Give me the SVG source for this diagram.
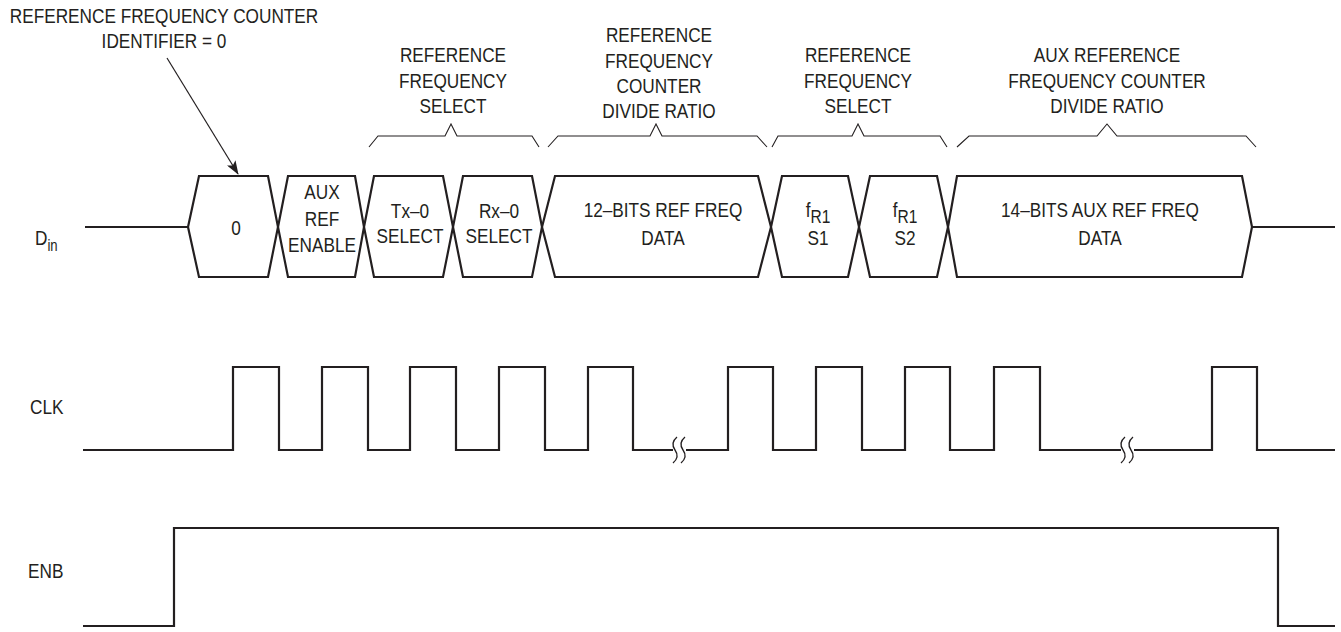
<svg xmlns="http://www.w3.org/2000/svg" width="1341" height="632" viewBox="0 0 1341 632">
<defs>
<style>
text{font-family:"Liberation Sans",Arial,sans-serif;font-size:21px;fill:#231f20}
.c{text-anchor:middle}
.sig{fill:none;stroke:#231f20;stroke-width:2.2;stroke-linejoin:miter}
.box{fill:none;stroke:#231f20;stroke-width:2.2;stroke-linejoin:miter}
.brace{fill:none;stroke:#231f20;stroke-width:1.1}
.brk{fill:none;stroke:#231f20;stroke-width:1.3}
.sub{font-size:16px}
.sub2{font-size:19px}
</style>
<marker id="ah" markerWidth="14" markerHeight="10" refX="13" refY="5" orient="auto" markerUnits="userSpaceOnUse">
<path d="M0,0 L14,5 L0,10 L3,5 Z" fill="#231f20"/>
</marker>
</defs>
<rect width="1341" height="632" fill="#fff"/>

<g id="title">
<text class="c" transform="translate(164,23) scale(0.82,1)">REFERENCE FREQUENCY COUNTER</text>
<text class="c" transform="translate(164,48) scale(0.82,1)">IDENTIFIER = 0</text>
</g>

<g id="labels-top">
<text class="c" transform="translate(453,62) scale(0.82,1)">REFERENCE</text>
<text class="c" transform="translate(453,87.5) scale(0.82,1)">FREQUENCY</text>
<text class="c" transform="translate(453,113) scale(0.82,1)">SELECT</text>
<text class="c" transform="translate(659,42) scale(0.82,1)">REFERENCE</text>
<text class="c" transform="translate(659,67.5) scale(0.82,1)">FREQUENCY</text>
<text class="c" transform="translate(659,93) scale(0.82,1)">COUNTER</text>
<text class="c" transform="translate(659,118) scale(0.82,1)">DIVIDE RATIO</text>
<text class="c" transform="translate(858,62) scale(0.82,1)">REFERENCE</text>
<text class="c" transform="translate(858,87.5) scale(0.82,1)">FREQUENCY</text>
<text class="c" transform="translate(858,113) scale(0.82,1)">SELECT</text>
<text class="c" transform="translate(1107,62) scale(0.82,1)">AUX REFERENCE</text>
<text class="c" transform="translate(1107,87.5) scale(0.82,1)">FREQUENCY COUNTER</text>
<text class="c" transform="translate(1107,113) scale(0.82,1)">DIVIDE RATIO</text>
</g>

<g id="braces">
<path class="brace" d="M369,147 L378,136 H445 L451,124 L457,136 H532 L539,147"/>
<path class="brace" d="M548,147 L558,136 H650 L656,124 L662,136 H757 L767,147"/>
<path class="brace" d="M772,147 L778,136 H852 L858,124 L864,136 H940 L947,147"/>
<path class="brace" d="M957,147 L969,136 H1097 L1107,124 L1117,136 H1246 L1256,147"/>
</g>

<g id="signal-labels">
<text transform="translate(35,245) scale(0.82,1)">D<tspan class="sub" dy="6">in</tspan></text>
<text transform="translate(30,414) scale(0.82,1)">CLK</text>
<text transform="translate(28,578) scale(0.82,1)">ENB</text>
</g>

<g id="din">
<path class="sig" d="M85,227 H188"/>
<g id="b0"><path class="box" d="M188,227 L199,176 H268 L278,227 L268,277 H199 Z"/><text class="c" transform="translate(236,235) scale(0.82,1)">0</text></g>
<g id="b1"><path class="box" d="M278,227 L288,176 H355 L364,227 L355,277 H288 Z"/>
<text class="c" transform="translate(322,199) scale(0.82,1)">AUX</text><text class="c" transform="translate(322,226) scale(0.82,1)">REF</text><text class="c" transform="translate(322,252) scale(0.82,1)">ENABLE</text></g>
<g id="b2"><path class="box" d="M364,227 L374,176 H443 L453,227 L443,277 H374 Z"/>
<text class="c" transform="translate(410,218) scale(0.82,1)">Tx–0</text><text class="c" transform="translate(410,243) scale(0.82,1)">SELECT</text></g>
<g id="b3"><path class="box" d="M453,227 L463,176 H532 L542,227 L532,277 H463 Z"/>
<text class="c" transform="translate(499,218) scale(0.82,1)">Rx–0</text><text class="c" transform="translate(499,243) scale(0.82,1)">SELECT</text></g>
<g id="b4"><path class="box" d="M542,227 L555,176 H758 L771,227 L758,277 H555 Z"/>
<text class="c" transform="translate(663,217) scale(0.82,1)">12–BITS REF FREQ</text><text class="c" transform="translate(663,245) scale(0.82,1)">DATA</text></g>
<g id="b5"><path class="box" d="M771,227 L782,176 H848 L859,227 L848,277 H782 Z"/>
<text class="c" transform="translate(818,217) scale(0.82,1)">f<tspan class="sub2" dy="6">R1</tspan></text><text class="c" transform="translate(818,245) scale(0.82,1)">S1</text></g>
<g id="b6"><path class="box" d="M859,227 L870,176 H937 L948,227 L937,277 H870 Z"/>
<text class="c" transform="translate(905,217) scale(0.82,1)">f<tspan class="sub2" dy="6">R1</tspan></text><text class="c" transform="translate(905,245) scale(0.82,1)">S2</text></g>
<g id="b7"><path class="box" d="M948,227 L957,176 H1242 L1252,227 L1242,277 H957 Z"/>
<text class="c" transform="translate(1100,217) scale(0.82,1)">14–BITS AUX REF FREQ</text><text class="c" transform="translate(1100,245) scale(0.82,1)">DATA</text></g>
<path class="sig" d="M1252,227 H1335"/>
</g>

<g id="clk">
<path class="sig" d="M83,450 H233 V367 H279 V450 H322 V367 H368 V450 H410 V367 H456 V450 H499 V367 H545 V450 H588 V367 H633 V450 H673"/>
<path class="sig" d="M686,450 H728 V367 H773 V450 H816 V367 H862 V450 H905 V367 H950 V450 H994 V367 H1040 V450 H1121"/>
<path class="sig" d="M1134,450 H1212 V367 H1257 V450 H1335"/>
<path class="brk" d="M677,437 Q670,443 675,450 Q680,457 673,463"/>
<path class="brk" d="M685,437 Q678,443 683,450 Q688,457 681,463"/>
<path class="brk" d="M1125,437 Q1118,443 1123,450 Q1128,457 1121,463"/>
<path class="brk" d="M1133,437 Q1126,443 1131,450 Q1136,457 1129,463"/>
</g>

<g id="enb">
<path class="sig" d="M83,626 H174 V528 H1278 V626 H1335"/>
</g>

<g id="connectors">
<line x1="167" y1="58" x2="238" y2="174" stroke="#231f20" stroke-width="1.2" marker-end="url(#ah)"/>
</g>
</svg>
